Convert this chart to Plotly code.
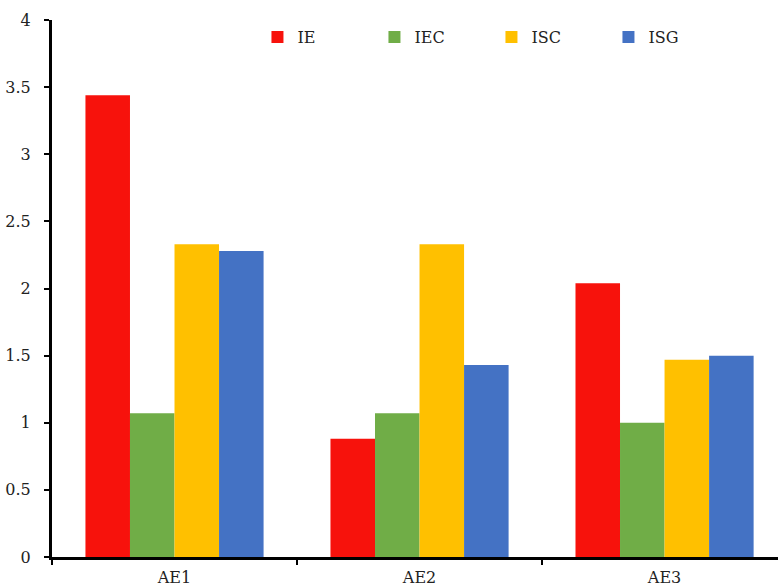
import plotly.graph_objects as go

# Categories and series values
categories = ["AE1", "AE2", "AE3"]
ie = [3.44, 0.88, 2.04]
iec = [1.07, 1.07, 1.0]
isc = [2.33, 2.33, 1.47]
isg = [2.28, 1.43, 1.5]

series = [
    ("IE", ie, "#F7120C"),
    ("IEC", iec, "#70AD47"),
    ("ISC", isc, "#FFC000"),
    ("ISG", isg, "#4472C4"),
]

font_family = "DejaVu Serif"
text_color = "#222222"

fig = go.Figure()
for name, vals, color in series:
    fig.add_trace(go.Bar(x=categories, y=vals, name=name,
                         marker=dict(color=color, line=dict(width=0))))

fig.update_layout(
    width=778, height=587,
    margin=dict(l=52, r=0, t=20, b=30),
    paper_bgcolor="white", plot_bgcolor="white",
    barmode="group", bargap=0.273, bargroupgap=0,
    font=dict(family=font_family, size=16, color=text_color),
    showlegend=True,
    legend=dict(orientation="h", x=0.283, y=0.968, xanchor="left", yanchor="middle",
                font=dict(size=16, color=text_color), bgcolor="rgba(0,0,0,0)",
                entrywidth=72, entrywidthmode="pixels", itemsizing="constant"),
    xaxis=dict(
        type="category", range=[-0.5, 2.463],
        showline=True, linecolor="black", linewidth=3,
        ticks="outside", tickson="boundaries", ticklen=5, tickwidth=2, tickcolor="black",
        ticklabelstandoff=4,
        showgrid=False, zeroline=False,
        tickfont=dict(size=16, color=text_color),
    ),
    yaxis=dict(
        range=[0, 4], dtick=0.5, tick0=0,
        showline=True, linecolor="black", linewidth=3,
        ticks="outside", ticklen=5, tickwidth=2, tickcolor="black",
        ticklabelstandoff=10,
        showgrid=False, zeroline=False,
        tickfont=dict(size=16, color=text_color),
    ),
)

fig.write_html("out.html")
